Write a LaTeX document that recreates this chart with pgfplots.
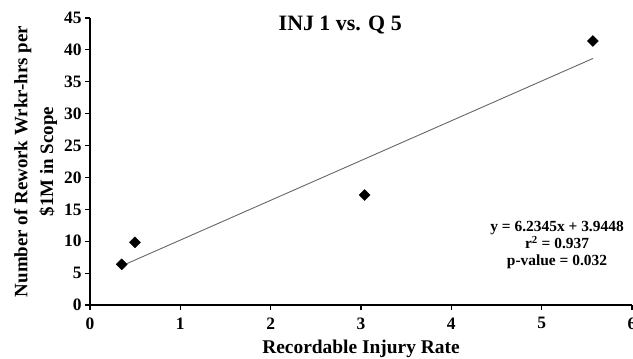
\documentclass[border=0pt]{standalone}
\usepackage{pgfplots}
\pgfplotsset{compat=1.18}
\usepackage{fontspec}
\setmainfont{Liberation Serif}
\usetikzlibrary{calc}
\begin{document}
\begin{tikzpicture}
\begin{axis}[
  name=ax,
  scale only axis,
  width=542bp, height=287bp,
  xmin=0, xmax=6, ymin=0, ymax=45,
  axis x line*=bottom, axis y line*=left,
  axis line style={line width=1.6bp, black},
  xtick={0,1,2,3,4,5,6}, ytick={0,5,...,45},
  tick align=outside, major tick length=5bp,
  tick style={black, line width=1.2bp},
  ticklabel style={font=\fontsize{17.5}{17.5}\selectfont\bfseries},
  xticklabel style={yshift=-4bp},
  /pgf/number format/assume math mode=true,
  xlabel={Recordable Injury Rate},
  xlabel style={font=\fontsize{19.5}{20}\selectfont\bfseries, yshift=-3.5bp},
  ylabel={Number of Rework Wrkr-hrs per\\\$1M in Scope},
  ylabel style={font=\fontsize{19}{26}\selectfont\bfseries, align=center, yshift=0bp},
  clip=false,
]
\addplot[only marks, mark=square*, mark size=3.9bp, mark options={rotate=45, fill=black, draw=black}]
  coordinates {(0.351,6.38) (0.498,9.83) (3.04,17.25) (5.567,41.4)};
\addplot[gray!80!black, line width=0.9bp] coordinates {(0.351,6.133) (5.567,38.652)};
\node[anchor=base, font=\fontsize{22}{22}\selectfont\bfseries] at (axis cs:2.77,43.1) {INJ 1 vs. Q 5};
\node[align=center, font=\fontsize{15.5}{17.5}\selectfont\bfseries] at (axis cs:5.17,9.41)
  {y = 6.2345x + 3.9448\\r\textsuperscript{2} = 0.937\\p-value = 0.032};
\end{axis}
\pgfresetboundingbox
\useasboundingbox ($(ax.south west)+(-90bp,-53bp)$) rectangle ($(ax.north east)+(1bp,18bp)$);
\end{tikzpicture}
\end{document}
